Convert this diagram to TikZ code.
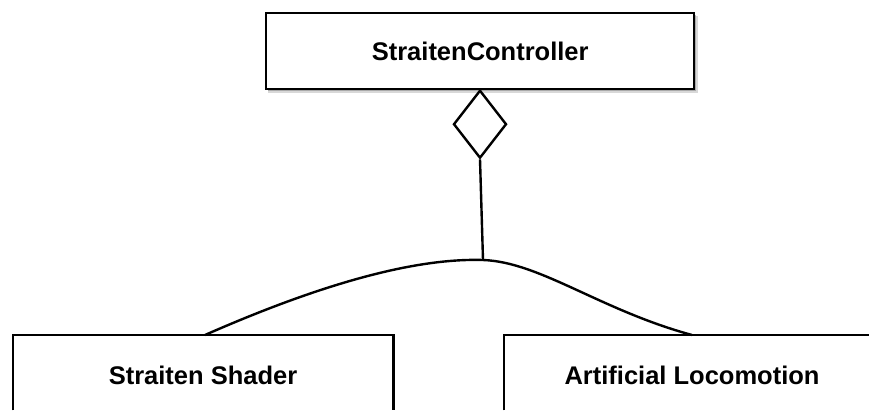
\documentclass[tikz,border=0pt]{standalone}
\usepackage{fontspec}
\setmainfont{Liberation Sans}
\usetikzlibrary{shapes.geometric,shadows}
\begin{document}
\begin{tikzpicture}[x=1pt,y=-1pt,
  classbox/.style={draw=black,line width=2.4pt,fill=white,font=\bfseries\fontsize{25.5}{28}\selectfont},
  openbox/.style={fill=white,inner sep=0pt},
  agg/.style={draw=black,line width=2.4pt,fill=white,shape=diamond,inner sep=0pt,minimum width=53pt,minimum height=68pt},
  link/.style={draw=black,line width=2.4pt},
  lbl/.style={font=\bfseries\fontsize{25.5}{28}\selectfont}]
\useasboundingbox (0,0) rectangle (869,410);
\fill[white] (0,0) rectangle (869,410);
% top box
\fill[black!30,opacity=0.5] (268,16) rectangle (698,93);
\fill[black!45,opacity=0.6] (268,15) rectangle (696,91);
\node[classbox,minimum width=428pt,minimum height=76pt,anchor=north west] (ctrl) at (265,12) {StraitenController};
\node[agg,anchor=north] (dia) at (480,89) {};
% bottom boxes (cut by the lower/right picture edge)
\node[openbox,minimum width=380pt,minimum height=75pt,anchor=north west] (shader) at (13,335) {};
\draw[link] (shader.south west) -- (shader.north west) -- (shader.north east) -- (shader.south east);
\node[lbl] (shadertxt) at (203,375) {Straiten Shader};
\node[openbox,minimum width=365pt,minimum height=75pt,anchor=north west] (loco) at (504,335) {};
\draw[link] (loco.south west) -- (loco.north west) -- (loco.north east);
\node[lbl] (locotxt) at (692,375) {Artificial Locomotion};
% connectors
\coordinate (peak) at (483,260);
\coordinate (lend) at (205,335);
\coordinate (rend) at (692,335);
\draw[link] (dia.south) -- (peak);
\draw[link] (lend) .. controls (330,280) and (420,258) .. (peak)
  .. controls (540,262) and (600,310) .. (rend);
\end{tikzpicture}
\end{document}
